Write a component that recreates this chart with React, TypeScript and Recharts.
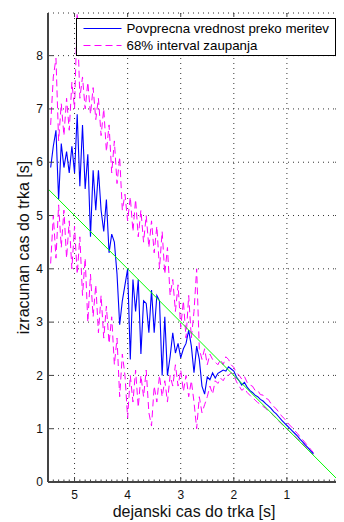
import React from 'react';
import { ComposedChart, Line, XAxis, YAxis, CartesianGrid } from 'recharts';

const FONT = '"Liberation Sans", Arial, Helvetica, sans-serif';

// Actual time to collision (x) — sample positions
const xs = [
  5.45, 5.4, 5.35, 5.3, 5.25, 5.2, 5.15, 5.1, 5.05, 5.0,
  4.95, 4.9, 4.85, 4.8, 4.75, 4.7, 4.65, 4.6, 4.55, 4.5,
  4.45, 4.4, 4.35, 4.3, 4.25, 4.2, 4.15, 4.1, 4.05, 4.0,
  3.95, 3.9, 3.85, 3.8, 3.75, 3.7, 3.65, 3.6, 3.55, 3.5,
  3.45, 3.4, 3.35, 3.3, 3.25, 3.2, 3.15, 3.1, 3.05, 3.0,
  2.95, 2.9, 2.85, 2.8, 2.75, 2.7, 2.65, 2.6, 2.55, 2.5,
  2.45, 2.4, 2.35, 2.3, 2.25, 2.2, 2.15, 2.1, 2.05, 2.0,
  1.95, 1.9, 1.85, 1.8, 1.75, 1.7, 1.65, 1.6, 1.55, 1.5,
  1.45, 1.4, 1.35, 1.3, 1.25, 1.2, 1.15, 1.1, 1.05, 1.0,
  0.95, 0.9, 0.85, 0.8, 0.75, 0.7, 0.65, 0.6, 0.55, 0.5,
];

// Mean over measurements
const meanVals = [
  5.9, 6.3, 6.6, 5.3, 6.35, 5.9, 6.2, 5.8, 6.3, 5.8,
  6.9, 5.55, 6.7, 5.5, 6.15, 4.6, 5.85, 5.1, 5.85, 5.1,
  4.7, 5.3, 4.3, 4.65, 4.5, 3.9, 2.95, 3.4, 3.7, 4.0,
  2.3, 3.8, 3.2, 3.8, 2.4, 3.4, 3.35, 2.8, 3.6, 2.8,
  3.5, 3.4, 2.0, 3.1, 2.0, 2.35, 2.8, 2.42, 2.6, 2.33,
  2.5, 2.6, 2.85, 2.55, 2.05, 2.55, 2.3, 1.8, 1.65, 1.97,
  1.92, 2.05, 1.95, 2.04, 2.07, 2.1, 2.08, 2.16, 2.12, 2.08,
  1.97, 1.9, 1.82, 1.87, 1.78, 1.72, 1.68, 1.63, 1.6, 1.55,
  1.52, 1.47, 1.43, 1.38, 1.32, 1.28, 1.22, 1.16, 1.11, 1.06,
  1.01, 0.96, 0.91, 0.86, 0.8, 0.75, 0.69, 0.64, 0.58, 0.53,
];

// 68% confidence interval — upper bound
const upperVals = [
  6.7, 7.6, 7.95, 6.4, 7.1, 6.5, 7.2, 6.6, 7.5, 7.0,
  8.8, 7.2, 7.6, 7.0, 7.5, 6.9, 7.4, 6.8, 7.2, 6.5,
  7.0, 6.2, 6.7, 5.8, 6.4, 5.6, 6.1, 5.1, 5.4, 4.9,
  5.35, 4.7, 5.3, 4.6, 5.1, 4.5, 5.0, 4.4, 4.9, 4.3,
  4.8, 4.0, 4.7, 3.9, 4.4, 3.5, 3.8, 3.2, 3.7, 2.9,
  3.4, 2.7, 3.5, 2.7, 3.2, 4.0, 2.5, 2.3, 2.5, 2.2,
  2.4, 2.3, 2.25, 2.2, 2.3, 2.2, 2.35, 2.3, 2.2, 2.15,
  2.05, 2.0, 1.93, 1.98, 1.87, 1.82, 1.8, 1.72, 1.72, 1.64,
  1.63, 1.57, 1.55, 1.47, 1.42, 1.37, 1.31, 1.24, 1.19, 1.13,
  1.07, 1.02, 0.96, 0.91, 0.84, 0.79, 0.73, 0.67, 0.61, 0.55,
];

// 68% confidence interval — lower bound
const lowerVals = [
  4.1, 5.0, 4.2, 5.2, 4.4, 5.1, 4.2, 4.9, 4.0, 4.8,
  3.9, 4.6, 3.5, 4.2, 3.0, 3.9, 3.1, 3.7, 2.8, 3.5,
  2.7, 3.3, 2.6, 3.1, 2.2, 2.7, 1.6, 2.4, 2.0, 1.2,
  2.0, 1.5, 2.1, 1.4, 2.0, 1.6, 2.1, 1.3, 1.05, 1.8,
  1.5, 2.0, 1.6, 1.9, 1.5, 2.0, 1.8, 2.2, 1.8, 2.1,
  1.7, 2.0, 1.6, 1.9, 1.5, 1.0, 1.6, 1.3, 1.45, 1.6,
  1.8, 1.65, 1.9, 1.85, 1.95, 1.9, 2.0, 2.0, 2.05, 2.02,
  1.88, 1.8, 1.72, 1.76, 1.68, 1.63, 1.58, 1.54, 1.49, 1.46,
  1.42, 1.38, 1.33, 1.3, 1.24, 1.2, 1.14, 1.09, 1.04, 0.99,
  0.95, 0.9, 0.86, 0.81, 0.76, 0.71, 0.66, 0.61, 0.55, 0.51,
];

// Ideal line y = x
const diagX = [5.5, 0];
const diagY = [5.5, 0];

const xMajorTicks = [5, 4, 3, 2, 1, 0];
const yMajorTicks = [0, 1, 2, 3, 4, 5, 6, 7, 8];
const xMinorTicks = Array.from({ length: 56 }, (_, i) => i / 10);
const yMinorTicks = Array.from({ length: 89 }, (_, i) => i / 10);

const rows: any[] = [
  { x: diagX[0], d: diagY[0] },
  ...xs.map((x, i) => ({ x, mean: meanVals[i], upper: upperVals[i], lower: lowerVals[i] })),
  { x: diagX[1], d: diagY[1] },
];

const isMajor = (v: number) => Math.abs(v - Math.round(v)) < 1e-6;

const XTick = (props: any) => {
  const { x, y, payload } = props;
  const v = payload.value;
  const major = isMajor(v);
  return (
    <g>
      <line x1={x} x2={x} y1={y} y2={y - (major ? 5 : 2.5)} stroke="#444" strokeWidth={1} />
      {major && (
        <text x={x} y={y + 8} dy="0.71em" textAnchor="middle" fontSize={12} fill="#111" fontFamily={FONT}>
          {Math.round(v)}
        </text>
      )}
    </g>
  );
};

const YTick = (props: any) => {
  const { x, y, payload } = props;
  return (
    <g>
      <line x1={x} x2={x + 5} y1={y} y2={y} stroke="#444" strokeWidth={1} />
      <text x={x - 5} y={y} dy="0.35em" textAnchor="end" fontSize={12} fill="#111" fontFamily={FONT}>
        {payload.value}
      </text>
    </g>
  );
};

const RightTick = (props: any) => {
  const { x, y, payload } = props;
  const major = isMajor(payload.value);
  return <line x1={x - (major ? 5 : 2.5)} x2={x} y1={y} y2={y} stroke="#444" strokeWidth={1} />;
};

const TopTick = (props: any) => {
  const { x, y } = props;
  return <line x1={x} x2={x} y1={y} y2={y + 4} stroke="#444" strokeWidth={1} />;
};

const YLabel = (props: any) => {
  const vb = props.viewBox || { y: 5, height: 469 };
  const cx = 21;
  const cy = vb.y + vb.height / 2;
  return (
    <text x={cx} y={cy} transform={`rotate(-90 ${cx} ${cy})`} textAnchor="middle" fontSize={16} fill="#111" fontFamily={FONT}>
      izracunan cas do trka [s]
    </text>
  );
};

export default function App() {
  return (
    <div style={{ position: 'relative', width: 336, height: 514, fontFamily: FONT }}>
      <ComposedChart width={336} height={514} data={rows} margin={{ top: 4, right: 0, bottom: 0, left: 0 }}>
        <XAxis
          dataKey="x"
          type="number"
          domain={[0, 5.5]}
          reversed
          allowDataOverflow
          ticks={xMinorTicks}
          interval={0}
          height={40}
          tickSize={0}
          tickMargin={0}
          tickLine={false}
          tick={<XTick />}
          axisLine={{ stroke: '#444', strokeWidth: 2 }}
          label={{ value: 'dejanski cas do trka [s]', position: 'insideBottom', offset: 5, fontSize: 16, fill: '#111', fontFamily: FONT }}
        />
        <XAxis
          xAxisId="top"
          orientation="top"
          dataKey="x"
          type="number"
          domain={[0, 5.5]}
          reversed
          allowDataOverflow
          ticks={xMajorTicks}
          interval={0}
          height={1}
          tickSize={0}
          tickMargin={0}
          tickLine={false}
          tick={<TopTick />}
          axisLine={false}
        />
        <YAxis
          type="number"
          domain={[0, 8.8]}
          allowDataOverflow
          ticks={yMajorTicks}
          interval={0}
          width={40}
          tickSize={0}
          tickMargin={0}
          tickLine={false}
          tick={<YTick />}
          axisLine={{ stroke: '#444', strokeWidth: 2 }}
          label={<YLabel />}
        />
        <YAxis
          yAxisId="right"
          orientation="right"
          type="number"
          domain={[0, 8.8]}
          allowDataOverflow
          ticks={yMinorTicks}
          interval={0}
          width={4}
          tickSize={0}
          tickMargin={0}
          tickLine={false}
          tick={<RightTick />}
          axisLine={false}
        />
        <CartesianGrid xAxisId="top" stroke="#333" strokeDasharray="1 4" />
        <Line dataKey="upper" stroke="#ff00ff" strokeWidth={1} strokeDasharray="7 4" dot={false} isAnimationActive={false} />
        <Line dataKey="lower" stroke="#ff00ff" strokeWidth={1} strokeDasharray="7 4" dot={false} isAnimationActive={false} />
        <Line dataKey="mean" stroke="#0000ff" strokeWidth={1.1} dot={false} isAnimationActive={false} />
        <Line dataKey="d" stroke="#00ff00" strokeWidth={1} dot={false} connectNulls isAnimationActive={false} />
      </ComposedChart>
      <div
        style={{
          position: 'absolute',
          left: 68,
          top: 10,
          width: 260,
          height: 38,
          boxSizing: 'border-box',
          border: '1.5px solid #000',
          background: '#fff',
        }}
      >
        <svg width={257} height={35} style={{ display: 'block' }}>
          <line x1={6.5} x2={44.5} y1={9.5} y2={9.5} stroke="#0000ff" strokeWidth={1.2} />
          <text x={49.5} y={14} fontSize={13.3} fill="#000" fontFamily={FONT}>Povprecna vrednost preko meritev</text>
          <line x1={6.5} x2={44.5} y1={26.5} y2={26.5} stroke="#ff00ff" strokeWidth={1} strokeDasharray="7 4" />
          <text x={49.5} y={31} fontSize={13.3} fill="#000" fontFamily={FONT}>68% interval zaupanja</text>
        </svg>
      </div>
    </div>
  );
}
